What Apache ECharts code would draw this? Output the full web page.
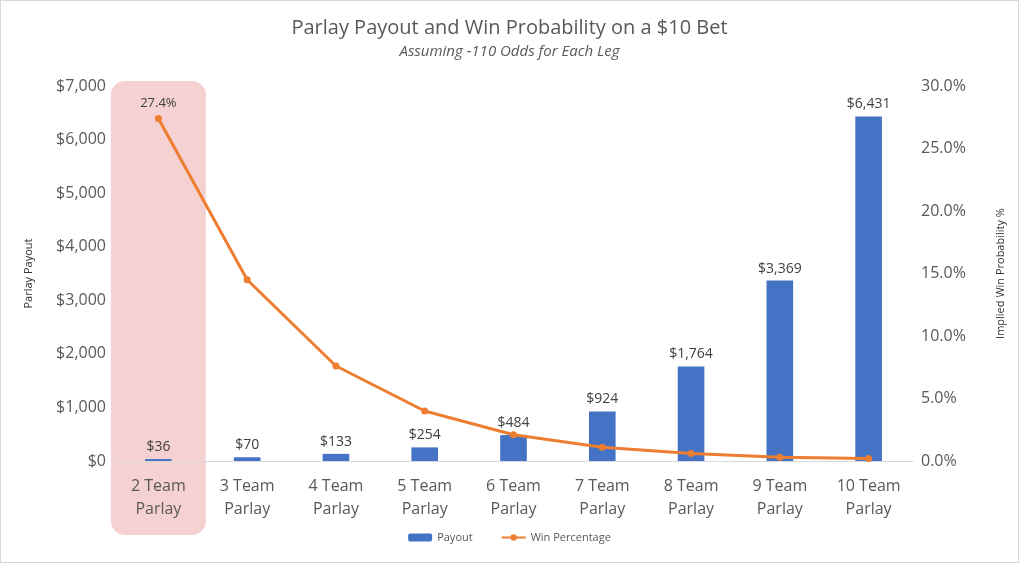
<!DOCTYPE html>
<html><head><meta charset="utf-8">
<script src="https://cdn.jsdelivr.net/npm/echarts@6/dist/echarts.min.js"></script>
<style>html,body{margin:0;padding:0;background:#fff}#c{width:1019px;height:563px;box-sizing:border-box;border:1px solid #d9d9d9}</style>
</head><body><div id="c"></div>
<script>
const categories = ['2 Team\nParlay','3 Team\nParlay','4 Team\nParlay','5 Team\nParlay','6 Team\nParlay','7 Team\nParlay','8 Team\nParlay','9 Team\nParlay','10 Team\nParlay'];
const payout = [36,70,133,254,484,924,1764,3369,6431];
const winPct = [27.4,14.5,7.6,4.0,2.1,1.1,0.6,0.3,0.2];
const chart = echarts.init(document.getElementById('c'));
const grey = '#595959';
chart.setOption({
  animation:false,
  title:{text:'Parlay Payout and Win Probability on a $10 Bet',subtext:'Assuming -110 Odds for Each Leg',left:'center',top:12,itemGap:6,
    textStyle:{fontFamily:'Open Sans',fontSize:20,fontWeight:'normal',color:grey},
    subtextStyle:{fontFamily:'Open Sans',fontSize:15,fontStyle:'italic',color:grey}},
  legend:{bottom:14,itemWidth:24,itemHeight:8,itemGap:28,textStyle:{fontSize:11,color:grey,fontFamily:'Open Sans'},data:['Payout','Win Percentage']},
  grid:{left:113,right:105,top:85,bottom:101},
  xAxis:{type:'category',data:categories,axisTick:{show:false},axisLine:{lineStyle:{color:'#d9d9d9'}},
    axisLabel:{fontSize:16,color:grey,fontFamily:'Open Sans',lineHeight:23,margin:14}},
  yAxis:[{type:'value',min:0,max:7000,interval:1000,name:'Parlay Payout',nameLocation:'middle',nameGap:80,nameRotate:90,
    nameTextStyle:{fontSize:11,color:'#333',fontFamily:'Open Sans'},
    axisLabel:{fontSize:16,color:grey,fontFamily:'Open Sans',formatter:v=>'$'+v.toLocaleString('en-US')},splitLine:{show:false}},
   {type:'value',min:0,max:30,interval:5,name:'Implied Win Probability %',nameLocation:'middle',nameGap:82,nameRotate:90,
    nameTextStyle:{fontSize:11,color:'#333',fontFamily:'Open Sans'},
    axisLabel:{fontSize:16,color:grey,fontFamily:'Open Sans',formatter:v=>v.toFixed(1)+'%'},splitLine:{show:false}}],
  series:[
   {name:'Payout',type:'bar',data:payout,barWidth:'30%',itemStyle:{color:'#4472c4'},
    label:{show:true,position:'top',fontSize:14,color:'#404040',fontFamily:'Open Sans',formatter:p=>'$'+p.value.toLocaleString('en-US')}},
   {name:'Win Percentage',type:'line',yAxisIndex:1,data:winPct,symbol:'circle',symbolSize:7,
    lineStyle:{color:'#ed7d31',width:3},itemStyle:{color:'#ed7d31'},
    label:{show:true,position:'top',fontSize:13,color:'#404040',fontFamily:'Open Sans',
      formatter:p=>p.dataIndex===0?p.value.toFixed(1)+'%':''}}
  ]
});
const x0 = chart.convertToPixel({xAxisIndex:0},0);
const x1 = chart.convertToPixel({xAxisIndex:0},1);
const w = (x1-x0)*1.07;
chart.setOption({graphic:[{type:'rect',z:-1,shape:{x:x0-w/2,y:80,width:w,height:454,r:14},style:{fill:'rgba(230,140,140,0.4)'}}]});
</script></body></html>
